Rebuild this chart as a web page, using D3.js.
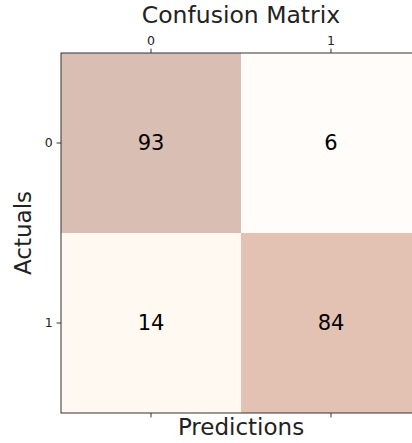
<!DOCTYPE html>
<html>
<head>
<meta charset="utf-8">
<script src="https://cdn.jsdelivr.net/npm/d3@7"></script>
<style>
  html, body { margin: 0; padding: 0; background: #fff; }
  svg { display: block; font-family: "DejaVu Sans", sans-serif; }
</style>
</head>
<body>
<svg id="chart" width="412" height="443"></svg>
<script>
// Confusion matrix counts: rows = actual class, columns = predicted class
const classes = ["0", "1"];
const row0 = [93, 6];
const row1 = [14, 84];
const matrix = [row0, row1];

const title = "Confusion Matrix";
const xTitle = "Predictions";
const yTitle = "Actuals";

const svg = d3.select("#chart");
const margin = { left: 61, top: 53 };
const size = 360;

const x = d3.scaleBand().domain(classes).range([margin.left, margin.left + size]);
const y = d3.scaleBand().domain(classes).range([margin.top, margin.top + size]);

const all = matrix.flat();
const colorScale = d3.scaleSequential(d3.interpolateOranges).domain([d3.min(all), d3.max(all)]);
// 30% opacity over white
function cellColor(v) {
  const c = d3.rgb(colorScale(v));
  const a = 0.3;
  return d3.rgb(c.r * a + 255 * (1 - a), c.g * a + 255 * (1 - a), c.b * a + 255 * (1 - a)).formatHex();
}

const cells = [];
matrix.forEach((row, i) => row.forEach((v, j) => cells.push({ r: classes[i], c: classes[j], v })));

svg.append("g").selectAll("rect").data(cells).join("rect")
  .attr("x", d => x(d.c))
  .attr("y", d => y(d.r))
  .attr("width", x.bandwidth())
  .attr("height", y.bandwidth())
  .attr("fill", d => cellColor(d.v));

svg.append("g").selectAll("text").data(cells).join("text")
  .attr("x", d => x(d.c) + x.bandwidth() / 2)
  .attr("y", d => y(d.r) + y.bandwidth() / 2)
  .attr("text-anchor", "middle")
  .attr("dominant-baseline", "central")
  .attr("font-size", 21)
  .attr("fill", "#000")
  .text(d => d.v);

// Frame
svg.append("rect")
  .attr("x", margin.left)
  .attr("y", margin.top)
  .attr("width", size)
  .attr("height", size)
  .attr("fill", "none")
  .attr("stroke", "#333")
  .attr("stroke-width", 1);

function styleAxis(g) {
  g.select(".domain").remove();
  g.selectAll(".tick line").attr("stroke", "#333");
  g.selectAll(".tick text").attr("font-size", 12.5).attr("fill", "#222").attr("font-family", "DejaVu Sans, sans-serif");
}

svg.append("g")
  .attr("transform", `translate(0,${margin.top})`)
  .call(d3.axisTop(x).tickSize(4.4).tickPadding(4))
  .call(styleAxis);

svg.append("g")
  .attr("transform", `translate(0,${margin.top + size})`)
  .call(d3.axisBottom(x).tickSize(4.4).tickFormat(""))
  .call(styleAxis);

svg.append("g")
  .attr("transform", `translate(${margin.left},0)`)
  .call(d3.axisLeft(y).tickSize(4.4).tickPadding(4))
  .call(styleAxis);

svg.append("text")
  .attr("x", margin.left + size / 2)
  .attr("y", 23)
  .attr("text-anchor", "middle")
  .attr("font-size", 23.5)
  .attr("fill", "#222")
  .text(title);

svg.append("text")
  .attr("x", margin.left + size / 2)
  .attr("y", 435)
  .attr("text-anchor", "middle")
  .attr("font-size", 23)
  .attr("fill", "#222")
  .text(xTitle);

svg.append("text")
  .attr("transform", `translate(31,${margin.top + size / 2}) rotate(-90)`)
  .attr("text-anchor", "middle")
  .attr("font-size", 23)
  .attr("fill", "#222")
  .text(yTitle);
</script>
</body>
</html>
